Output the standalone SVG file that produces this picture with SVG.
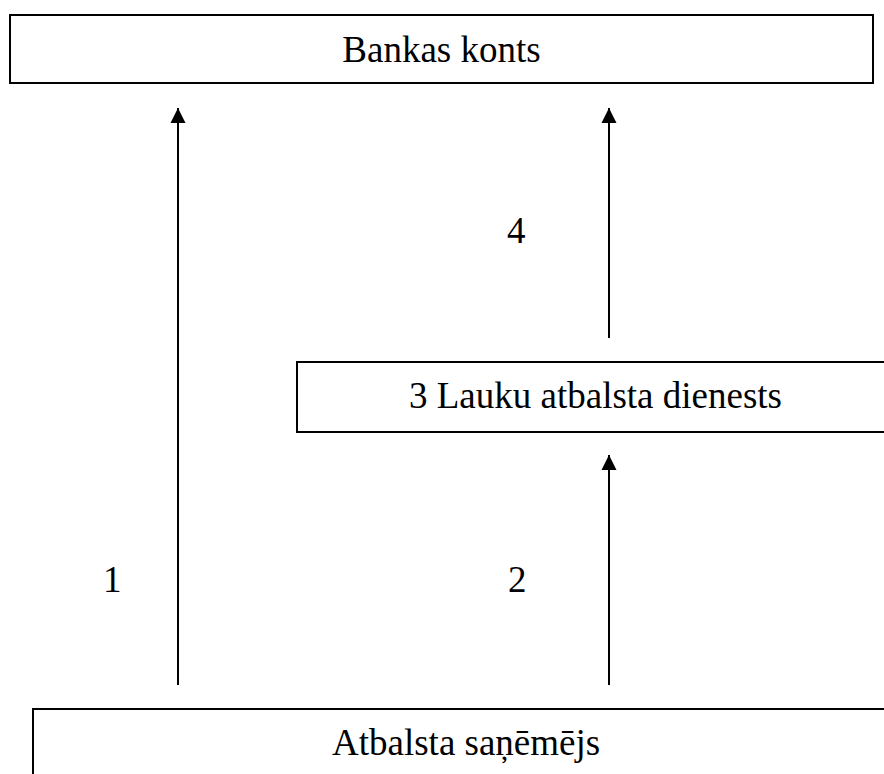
<svg xmlns="http://www.w3.org/2000/svg" width="884" height="774" viewBox="0 0 884 774">
<style>
.box{fill:#fff;stroke:#000;stroke-width:2}
.lbl{font-family:"Liberation Serif","Times New Roman",serif;font-size:37px;fill:#000}
.conn{stroke:#000;stroke-width:2;fill:none}
</style>
<defs>
<marker id="ah" markerUnits="userSpaceOnUse" markerWidth="16" markerHeight="16" viewBox="0 0 16 16" refX="15" refY="8" orient="auto">
<path d="M0,0.5 L15,8 L0,15.5 Z" fill="#000"/>
</marker>
</defs>
<rect width="884" height="774" fill="#fff"/>
<g id="node-bankas">
<rect class="box" x="10" y="15" width="863" height="68"/>
<text class="lbl" x="441.5" y="62" text-anchor="middle">Bankas konts</text>
</g>
<g id="node-lad">
<rect class="box" x="297" y="362" width="620" height="70"/>
<text class="lbl" x="595.5" y="408" text-anchor="middle">3 Lauku atbalsta dienests</text>
</g>
<g id="node-sanemejs">
<rect class="box" x="33" y="709" width="900" height="100"/>
<text class="lbl" x="332" y="755">Atbalsta saņēmējs</text>
</g>
<g id="connectors">
<line class="conn" x1="178" y1="685" x2="178" y2="108" marker-end="url(#ah)"/>
<line class="conn" x1="609" y1="685" x2="609" y2="455" marker-end="url(#ah)"/>
<line class="conn" x1="609" y1="338" x2="609" y2="108" marker-end="url(#ah)"/>
<text class="lbl" x="103" y="592">1</text>
<text class="lbl" x="508" y="592">2</text>
<text class="lbl" x="507" y="243">4</text>
</g>
</svg>
